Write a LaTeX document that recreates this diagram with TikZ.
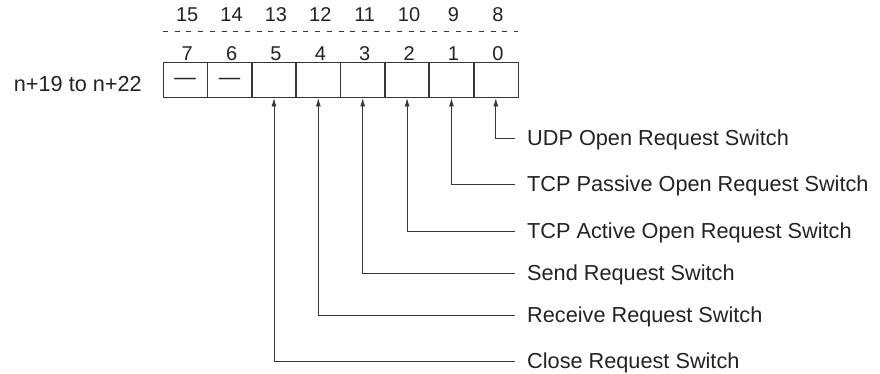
\documentclass[tikz,border=0pt]{standalone}
\usepackage{fontspec}
\setmainfont{Liberation Sans}
\usetikzlibrary{arrows.meta,positioning}
\definecolor{cLine}{RGB}{55,55,55}
\definecolor{cText}{RGB}{35,35,35}

\begin{document}
\begin{tikzpicture}[>={Latex[length=8.5pt,width=5pt]},x=1pt,y=1pt,
  cell/.style={draw=cLine,line width=1pt,minimum width=44.4pt,minimum height=35pt,inner sep=0pt,outer sep=0pt,font=\fontsize{21.5}{24}\selectfont,text=cText},
  bit/.style={font=\fontsize{20}{22}\selectfont,text=cText,anchor=base,inner sep=0pt},
  lab/.style={font=\fontsize{21.7}{24}\selectfont,text=cText,anchor=west,inner xsep=12pt,inner ysep=0pt,text height=15pt,text depth=1pt},
  link/.style={->,draw=cLine,line width=0.9pt}]
  \useasboundingbox (0,0) rectangle (880,-374);
  % word cells, bit 7 on the left
  \foreach \b [count=\i from 0] in {7,6,5,4,3,2,1,0}
    \node[cell] (c\b) at (185.2+44.375*\i,-80.5) {};
  \foreach \b in {7,6,5,4,3,2,1}
    \draw[cLine,line width=1.7pt] (c\b.north east) -- (c\b.south east);
  \node[font=\fontsize{21.5}{24}\selectfont,text=cText,anchor=base,inner sep=0pt] (d7) at ([yshift=-3.8pt]c7.center) {—};
  \node[font=\fontsize{21.5}{24}\selectfont,text=cText,anchor=base,inner sep=0pt] (d6) at ([yshift=-3.8pt]c6.center) {—};
  % bit numbers
  \foreach \b/\h in {7/15,6/14,5/13,4/12,3/11,2/10,1/9,0/8} {
    \node[bit] (lo\b) at ([xshift=2pt,yshift=2.3pt]c\b.north) {\b};
    \node[bit] (hi\b) at ([xshift=2pt,yshift=41pt]c\b.north) {\h};
  }
  \draw[cLine,line width=0.9pt,dash pattern=on 5pt off 6.7pt] ([yshift=31.3pt]c7.north west) -- ([yshift=31.3pt]c0.north east);
  \node[font=\fontsize{21.7}{24}\selectfont,text=cText,inner sep=0pt,left=21pt of c7,yshift=-4pt] (addr) {n+19 to n+22};
  % switches
  \foreach \b/\y/\t in {0/138.3/UDP Open Request Switch,
                        1/184/TCP Passive Open Request Switch,
                        2/231.7/TCP Active Open Request Switch,
                        3/273.3/Send Request Switch,
                        4/315.7/Receive Request Switch,
                        5/361/Close Request Switch} {
    \node[lab] (s\b) at (515,-\y) {\t};
    \draw[link] (s\b.west) -| (c\b.south);
  }
\end{tikzpicture}
\end{document}
